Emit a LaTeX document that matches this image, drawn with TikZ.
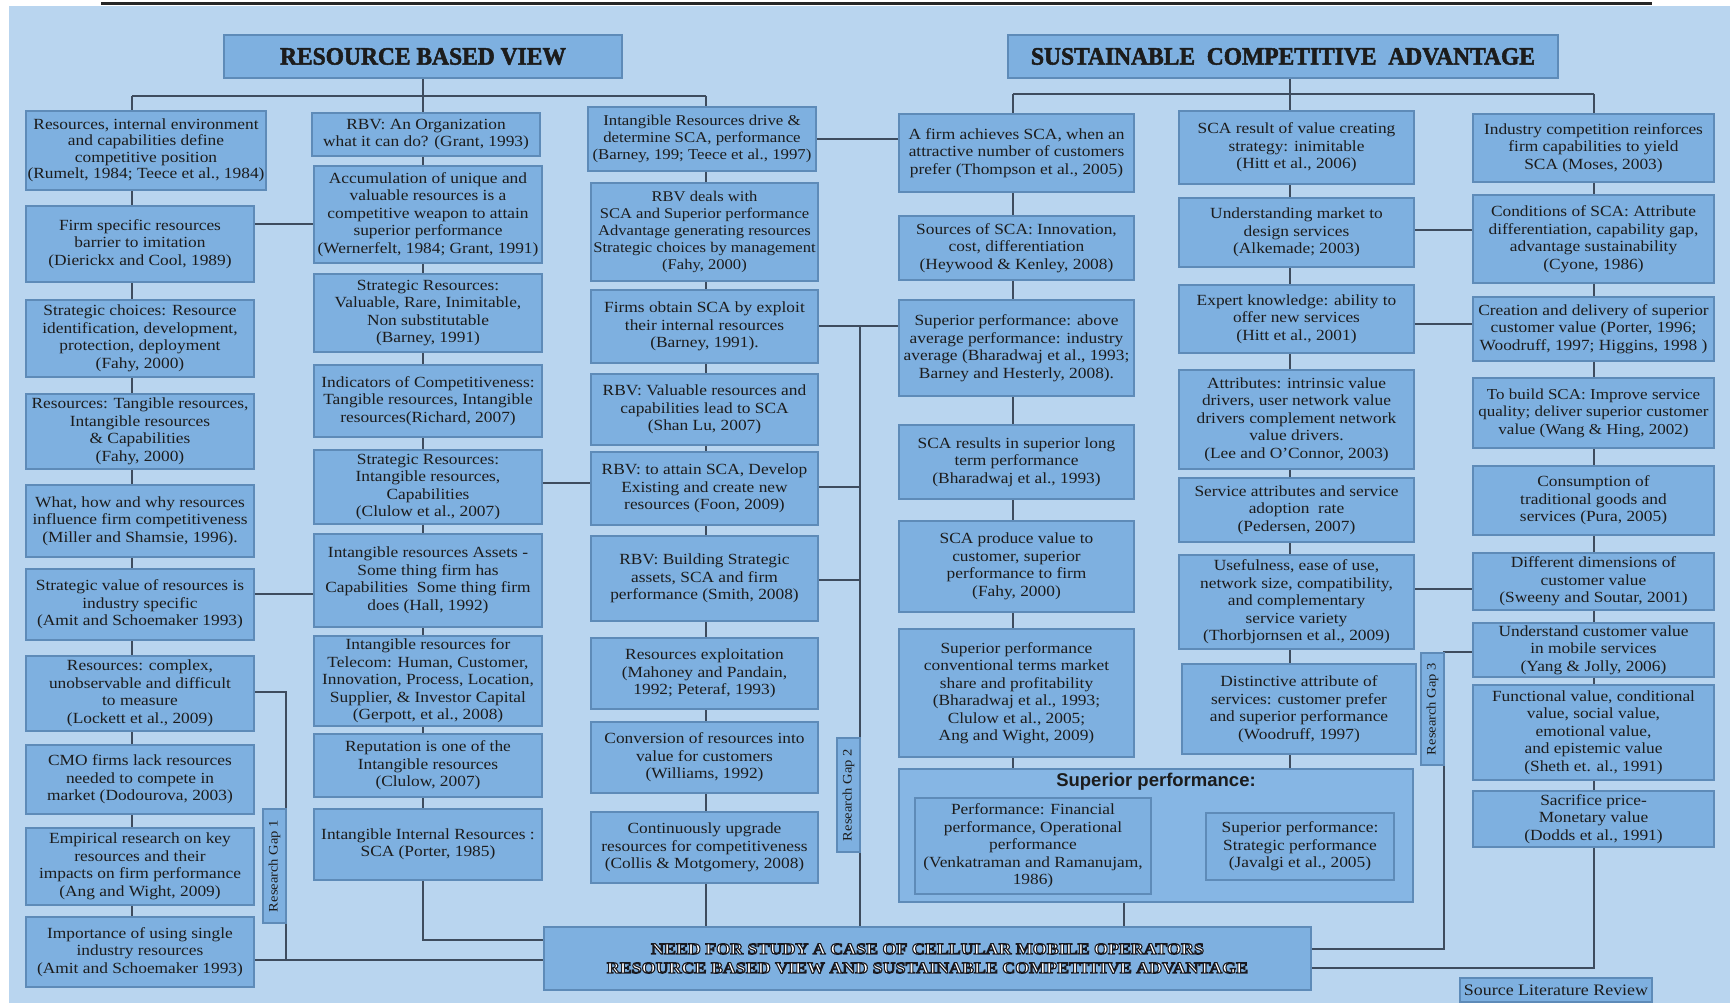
\documentclass[tikz,border=0pt]{standalone}
\usepackage{fontspec}
\setmainfont{Liberation Serif}[FakeStretch=1.12]
\newfontfamily\hdfont{Liberation Serif}[FakeStretch=0.94]
\newfontfamily\sansfam{Liberation Sans}

\definecolor{paper}{HTML}{B9D5EF}
\definecolor{boxfill}{HTML}{7EB0E0}
\definecolor{boxfillb}{HTML}{86B6E4}
\definecolor{boxedge}{HTML}{5E8BB8}
\definecolor{wirecol}{HTML}{3E4C5E}
\definecolor{ink}{HTML}{1C1C1C}

\pgfdeclarelayer{back}
\pgfdeclarelayer{wires}
\pgfsetlayers{back,wires,main}

\tikzset{
  card/.style={draw=boxedge, fill=boxfill, line width=1.2pt, inner sep=0pt,
    align=center, text=ink, font=\fontsize{15.5}{17.5}\selectfont},
  head/.style={card, text=ink, font=\hdfont\bfseries\fontsize{25}{27}\selectfont},
  gaplabel/.style={card, rotate=90, font=\fontsize{13}{14}\selectfont},
  wire/.style={draw=wirecol, line width=1.6pt},
}

% box given by its two corners (pixel units, y downwards)
\newcommand\card[7][]{\node[card, minimum width={(#5-#3)*1pt}, minimum height={(#6-#4)*1pt}, #1]
  (#2) at ({(#3+#5)/2},{(#4+#6)/2}) {#7};}
% upright tag given by its two corners, text running upwards
\newcommand\gaptag[6]{\node[gaplabel, minimum width={(#5-#3)*1pt}, minimum height={(#4-#2)*1pt}]
  (#1) at ({(#2+#4)/2},{(#3+#5)/2}) {#6};}
% letters with a contrasting outline: stroke colour, stroke width, text
\newcommand\outl[3]{\special{pdf:literal direct #1 RG #2 w 2 Tr}#3\special{pdf:literal direct 0 Tr}}

\begin{document}
\begin{tikzpicture}[x=1pt,y=-1pt]
\useasboundingbox (0,0) rectangle (1730,1003);

% ---------- headings ----------
\card[head]{rbv}{224}{35}{622}{78}{\outl{0.11 0.11 0.11}{0.5}{RESOURCE BASED VIEW}}
\card[head]{sca}{1008}{35}{1558}{78}{\outl{0.11 0.11 0.11}{0.5}{SUSTAINABLE\ \ COMPETITIVE\ \ ADVANTAGE}}

% ---------- column 1 ----------
\card[font=\fontsize{15.5}{16.5}\selectfont]{a1}{26}{111}{266}{190}{Resources, internal environment\\and capabilities define\\competitive position\\(Rumelt, 1984; Teece et al., 1984)}
\card{a2}{26}{206}{254}{282}{Firm specific resources\\barrier to imitation\\(Dierickx and Cool, 1989)}
\card{a3}{26}{300}{254}{377}{Strategic choices: Resource\\identification, development,\\protection, deployment\\(Fahy, 2000)}
\card{a4}{26}{394}{254}{469}{Resources: Tangible resources,\\Intangible resources\\\& Capabilities\\(Fahy, 2000)}
\card{a5}{26}{485}{254}{557}{What, how and why resources\\influence firm competitiveness\\(Miller and Shamsie, 1996).}
\card{a6}{26}{569}{254}{640}{Strategic value of resources is\\industry specific\\(Amit and Schoemaker 1993)}
\card{a7}{26}{656}{254}{731}{Resources: complex,\\unobservable and difficult\\to measure\\(Lockett et al., 2009)}
\card{a8}{26}{745}{254}{814}{CMO firms lack resources\\needed to compete in\\market (Dodourova, 2003)}
\card{a9}{26}{828}{254}{905}{Empirical research on key\\resources and their\\impacts on firm performance\\(Ang and Wight, 2009)}
\card{a10}{26}{917}{254}{987}{Importance of using single\\industry resources\\(Amit and Schoemaker 1993)}

% ---------- column 2 ----------
\card{b1}{312}{113}{540}{156}{RBV: An Organization\\what it can do? (Grant, 1993)}
\card{b2}{314}{166}{542}{263}{Accumulation of unique and\\valuable resources is a\\competitive weapon to attain\\superior performance\\(Wernerfelt, 1984; Grant, 1991)}
\card{b3}{314}{274}{542}{352}{Strategic Resources:\\Valuable, Rare, Inimitable,\\Non substitutable\\(Barney, 1991)}
\card{b4}{314}{365}{542}{437}{Indicators of Competitiveness:\\Tangible resources, Intangible\\resources(Richard, 2007)}
\card{b5}{314}{450}{542}{524}{Strategic Resources:\\Intangible resources,\\Capabilities\\(Clulow et al., 2007)}
\card{b6}{314}{534}{542}{627}{Intangible resources Assets -\\Some thing firm has\\Capabilities\ \ Some thing firm\\does (Hall, 1992)}
\card{b7}{314}{636}{542}{726}{Intangible resources for\\Telecom: Human, Customer,\\Innovation, Process, Location,\\Supplier, \& Investor Capital\\(Gerpott, et al., 2008)}
\card{b8}{314}{734}{542}{797}{Reputation is one of the\\Intangible resources\\(Clulow, 2007)}
\card{b9}{314}{809}{542}{880}{Intangible Internal Resources :\\SCA (Porter, 1985)}

% ---------- column 3 ----------
\card[font=\fontsize{15}{17}\selectfont]{c1}{588}{107}{816}{171}{Intangible Resources drive \&\\determine SCA, performance\\(Barney, 199; Teece et al., 1997)}
\card[font=\fontsize{14.8}{17.2}\selectfont]{c2}{591}{183}{818}{281}{RBV deals with\\SCA and Superior performance\\Advantage generating resources\\Strategic choices by management\\(Fahy, 2000)}
\card{c3}{591}{290}{818}{363}{Firms obtain SCA by exploit\\their internal resources\\(Barney, 1991).}
\card{c4}{591}{374}{818}{445}{RBV: Valuable resources and\\capabilities lead to SCA\\(Shan Lu, 2007)}
\card{c5}{591}{452}{818}{525}{RBV: to attain SCA, Develop\\Existing and create new\\resources (Foon, 2009)}
\card{c6}{591}{536}{818}{621}{RBV: Building Strategic\\assets, SCA and firm\\performance (Smith, 2008)}
\card{c7}{591}{638}{818}{709}{Resources exploitation\\(Mahoney and Pandain,\\1992; Peteraf, 1993)}
\card{c8}{591}{722}{818}{793}{Conversion of resources into\\value for customers\\(Williams, 1992)}
\card{c9}{591}{812}{818}{883}{Continuously upgrade\\resources for competitiveness\\(Collis \& Motgomery, 2008)}

% ---------- column 4 ----------
\card{d1}{899}{114}{1134}{192}{A firm achieves SCA, when an\\attractive number of customers\\prefer (Thompson et al., 2005)}
\card{d2}{899}{216}{1134}{280}{Sources of SCA: Innovation,\\cost, differentiation\\(Heywood \& Kenley, 2008)}
\card{d3}{899}{300}{1134}{396}{Superior performance: above\\average performance: industry\\average (Bharadwaj et al., 1993;\\Barney and Hesterly, 2008).}
\card{d4}{899}{425}{1134}{499}{SCA results in superior long\\term performance\\(Bharadwaj et al., 1993)}
\card{d5}{899}{521}{1134}{612}{SCA produce value to\\customer, superior\\performance to firm\\(Fahy, 2000)}
\card{d6}{899}{629}{1134}{757}{Superior performance\\conventional terms market\\share and profitability\\(Bharadwaj et al., 1993;\\Clulow et al., 2005;\\Ang and Wight, 2009)}

% ---------- superior performance panel ----------
\card[fill=boxfillb]{sp}{899}{769}{1413}{902}{}
\node[font=\sansfam\bfseries\fontsize{18.5}{20}\selectfont, text=ink] (sptitle) at (1156,782) {Superior performance:};
\card{spl}{915}{798}{1151}{894}{Performance: Financial\\performance, Operational\\performance\\(Venkatraman and Ramanujam,\\1986)}
\card{spr}{1206}{813}{1394}{880}{Superior performance:\\Strategic performance\\(Javalgi et al., 2005)}

% ---------- column 5 ----------
\card{e1}{1179}{111}{1414}{184}{SCA result of value creating\\strategy: inimitable\\(Hitt et al., 2006)}
\card{e2}{1179}{198}{1414}{267}{Understanding market to\\design services\\(Alkemade; 2003)}
\card{e3}{1179}{285}{1414}{353}{Expert knowledge: ability to\\offer new services\\(Hitt et al., 2001)}
\card{e4}{1179}{370}{1414}{469}{Attributes: intrinsic value\\drivers, user network value\\drivers complement network\\value drivers.\\(Lee and O'Connor, 2003)}
\card{e5}{1179}{478}{1414}{542}{Service attributes and service\\adoption\ \ rate\\(Pedersen, 2007)}
\card{e6}{1179}{555}{1414}{649}{Usefulness, ease of use,\\network size, compatibility,\\and complementary\\service variety\\(Thorbjornsen et al., 2009)}
\card{e7}{1182}{664}{1416}{754}{Distinctive attribute of\\services: customer prefer\\and superior performance\\(Woodruff, 1997)}

% ---------- column 6 ----------
\card{f1}{1473}{114}{1714}{182}{Industry competition reinforces\\firm capabilities to yield\\SCA (Moses, 2003)}
\card{f2}{1473}{195}{1714}{283}{Conditions of SCA: Attribute\\differentiation, capability gap,\\advantage sustainability\\(Cyone, 1986)}
\card{f3}{1473}{297}{1714}{361}{Creation and delivery of superior\\customer value (Porter, 1996;\\Woodruff, 1997; Higgins, 1998 )}
\card[font=\fontsize{15.2}{17.5}\selectfont]{f4}{1473}{378}{1714}{448}{To build SCA: Improve service\\quality; deliver superior customer\\value (Wang \& Hing, 2002)}
\card{f5}{1473}{466}{1714}{535}{Consumption of\\traditional goods and\\services (Pura, 2005)}
\card{f6}{1473}{553}{1714}{610}{Different dimensions of\\customer value\\(Sweeny and Soutar, 2001)}
\card{f7}{1473}{623}{1714}{677}{Understand customer value\\in mobile services\\(Yang \& Jolly, 2006)}
\card{f8}{1473}{685}{1714}{780}{Functional value, conditional\\value, social value,\\emotional value,\\and epistemic value\\(Sheth et. al., 1991)}
\card{f9}{1473}{791}{1714}{847}{Sacrifice price-\\Monetary value\\(Dodds et al., 1991)}

% ---------- research gap tags ----------
\gaptag{gap1}{263}{809}{286}{923}{Research Gap 1}
\gaptag{gap2}{837}{738}{860}{852}{Research Gap 2}
\gaptag{gap3}{1421}{653}{1444}{765}{Research Gap 3}

% ---------- conclusion ----------
\card[text=white, font=\bfseries\fontsize{16}{19}\selectfont]{need}{544}{927}{1311}{990}{\outl{0.1 0.1 0.12}{1.1}{NEED FOR STUDY A CASE OF CELLULAR MOBILE OPERATORS}\\\outl{0.1 0.1 0.12}{1.1}{RESOURCE BASED VIEW AND SUSTAINABLE COMPETITIVE ADVANTAGE}}
\card[font=\fontsize{16}{18}\selectfont]{src}{1460}{978}{1652}{1002}{Source Literature Review}

% ---------- page ----------
\begin{pgfonlayer}{back}
  \fill[white] (0,0) rectangle (1730,1003);
  \fill[paper] (9,6) rectangle (1730,1003);
  \draw[line width=3pt, black!85] (101,4) -- (1652,4);
\end{pgfonlayer}

% ---------- connectors ----------
\begin{pgfonlayer}{wires}
  % resource based view tree
  \coordinate (rL) at (132,96);
  \coordinate (rM) at (423,96);
  \coordinate (rR) at (706,96);
  \draw[wire] (rbv.south -| rM) -- (rM);
  \draw[wire] (rL) -- (rR);
  \draw[wire] (rL) -- (rL |- a10.north);
  \coordinate (k2) at (423,940);
  \draw[wire] (rM) -- (k2) -- (k2 -| need.west);
  \draw[wire] (rR) -- (rR |- need.north);
  % cross links between the RBV columns
  \draw[wire] (a2.east |- 0,224) -- (b2.west |- 0,224);
  \draw[wire] (a6.east |- 0,594) -- (b6.west |- 0,594);
  \draw[wire] (b5.east |- 0,483) -- (c5.west |- 0,483);
  % research gap 1
  \coordinate (g1a) at (286,692);
  \coordinate (g1b) at (286,960);
  \draw[wire] (a7.east |- g1a) -- (g1a) -- (g1b) -- (g1b -| need.west);
  \draw[wire] (a10.east |- g1b) -- (g1b);
  % research gap 2
  \coordinate (g2a) at (860,326);
  \draw[wire] (c3.east |- g2a) -- (d3.west |- g2a);
  \draw[wire] (g2a) -- (g2a |- need.north);
  \draw[wire] (c5.east |- 0,487) -- (g2a |- 0,487);
  \draw[wire] (c6.east |- 0,580) -- (g2a |- 0,580);
  \draw[wire] (c1.east |- 0,139) -- (d1.west |- 0,139);
  % sustainable competitive advantage tree
  \coordinate (sL) at (1013,94);
  \coordinate (sM) at (1290,94);
  \coordinate (sR) at (1594,94);
  \draw[wire] (sca.south -| sM) -- (sM);
  \draw[wire] (sL) -- (sR);
  \draw[wire] (sL) -- (sL |- sp.north);
  \draw[wire] (sM) -- (sM |- sp.north);
  \coordinate (k6) at (1594,968);
  \draw[wire] (sR) -- (k6) -- (k6 -| need.east);
  \draw[wire] (sp.south -| 1124,0) -- (need.north -| 1124,0);
  % links between the SCA columns
  \draw[wire] (e2.east |- 0,230) -- (f2.west |- 0,230);
  \draw[wire] (e3.east |- 0,324) -- (f3.west |- 0,324);
  \draw[wire] (e6.east |- 0,589) -- (f6.west |- 0,589);
  % research gap 3
  \coordinate (g3a) at (1444,652);
  \coordinate (g3b) at (1444,949);
  \draw[wire] (f7.west |- g3a) -- (g3a) -- (g3b) -- (g3b -| need.east);
\end{pgfonlayer}
\end{tikzpicture}
\end{document}
